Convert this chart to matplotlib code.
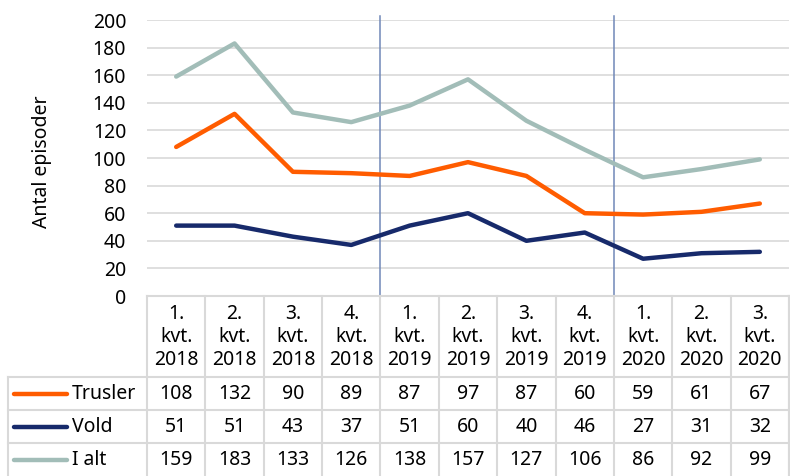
import matplotlib
matplotlib.use("Agg")
import matplotlib.pyplot as plt
import numpy as np

quarters = ["1.\nkvt.\n2018", "2.\nkvt.\n2018", "3.\nkvt.\n2018", "4.\nkvt.\n2018",
            "1.\nkvt.\n2019", "2.\nkvt.\n2019", "3.\nkvt.\n2019", "4.\nkvt.\n2019",
            "1.\nkvt.\n2020", "2.\nkvt.\n2020", "3.\nkvt.\n2020"]
trusler = [108, 132, 90, 89, 87, 97, 87, 60, 59, 61, 67]
vold = [51, 51, 43, 37, 51, 60, 40, 46, 27, 31, 32]
i_alt = [159, 183, 133, 126, 138, 157, 127, 106, 86, 92, 99]
series_names = ["Trusler", "Vold", "I alt"]
yticks = [0, 20, 40, 60, 80, 100, 120, 140, 160, 180, 200]
year_breaks = [4, 8]

colors = ["#FF5C00", "#172A6B", "#A2BDB8"]
FONT = "Noto Sans"
FS = 14
W, H = 790, 476
fig = plt.figure(figsize=(W / 100, H / 100), dpi=100)

left, right, top, bottom = 147, 789, 20, 296
ax = fig.add_axes([left / W, 1 - bottom / H, (right - left) / W, (bottom - top) / H])
n = len(quarters)
x = np.arange(n) + 0.5
ax.set_xlim(0, n)
ax.set_ylim(0, 200)
ax.set_yticks(yticks)
ax.set_yticklabels([str(v) for v in yticks], fontsize=FS, family=FONT)
ax.tick_params(axis="y", length=0, pad=15)
ax.set_xticks([])
for s in ax.spines.values():
    s.set_visible(False)
for v in yticks[1:]:
    ax.axhline(v, color="#d9d9d9", lw=1.2, zorder=0)
fig.text(42 / W, 1 - 162 / H, "Antal episoder", rotation=90, ha="center", va="center",
         fontsize=FS, family=FONT)

data = [trusler, vold, i_alt]
for vals, c in zip(data, colors):
    ax.plot(x, vals, color=c, lw=3.2, solid_capstyle="round", solid_joinstyle="round", zorder=3)

for b in year_breaks:
    ax.plot([b, b], [0, 203], color="#7088B8", lw=1.1, clip_on=False, zorder=2)

# table in pixel coordinates
tax = fig.add_axes([0, 0, 1, 1])
tax.set_xlim(0, W)
tax.set_ylim(H, 0)
tax.axis("off")
cw = (right - left) / n
lc = "#d9d9d9"
lw = 1.5
rows_y = [296, 377, 410, 443, 476]
tax.plot([left, right], [296, 296], color=lc, lw=lw)
for yv in rows_y[1:4]:
    tax.plot([8, right], [yv, yv], color=lc, lw=lw)
for i in range(n + 1):
    tax.plot([left + i * cw] * 2, [296, H], color=lc, lw=lw)
tax.plot([8, 8], [377, H], color=lc, lw=lw)
tax.plot([right, right], [296, H], color=lc, lw=lw)

for i, q in enumerate(quarters):
    tax.text(left + (i + 0.5) * cw, 337, q, ha="center", va="center",
             fontsize=FS, family=FONT, linespacing=1.2)

row_centers = [394, 427, 460]
for r, (name, vals, c) in enumerate(zip(series_names, data, colors)):
    yc = row_centers[r]
    tax.plot([14, 67], [yc, yc], color=c, lw=3.2, solid_capstyle="round")
    tax.text(72, yc, name, ha="left", va="center", fontsize=FS, family=FONT)
    for i, v in enumerate(vals):
        tax.text(left + (i + 0.5) * cw, yc, str(v), ha="center", va="center",
                 fontsize=FS, family=FONT)

fig.savefig("out.png", dpi=100)
